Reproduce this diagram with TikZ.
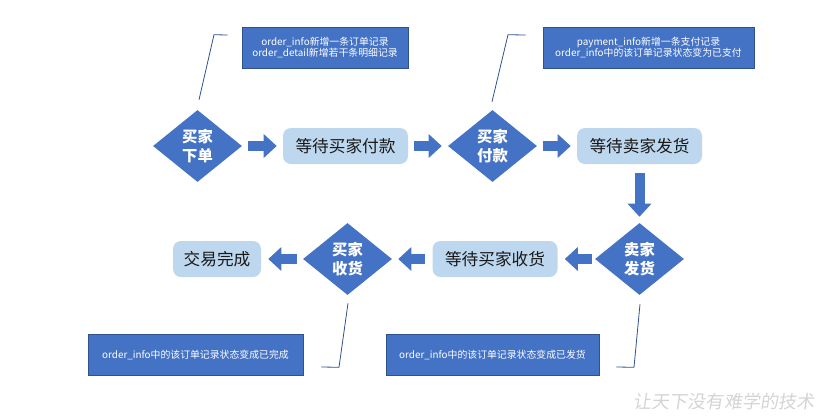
\documentclass[tikz,border=0pt]{standalone}
\usepackage{fontspec}
\setmainfont{Noto Sans CJK SC}
\newfontfamily\markfont[FakeSlant=0.15]{Noto Sans CJK SC}
\usepackage{xcolor}
\usetikzlibrary{shapes.geometric}
\usetikzlibrary{arrows.meta}
\usetikzlibrary{calc}

\definecolor{stepblue}{HTML}{4472C4}
\definecolor{waitblue}{HTML}{BDD7EE}
\definecolor{noteedge}{HTML}{2F528F}
\definecolor{marklight}{HTML}{D4D4D4}

\tikzset{
  decide/.style={diamond, fill=stepblue, text=white, align=center, inner sep=0pt,
    minimum width=66.75pt, minimum height=54pt,
    font=\fontsize{11.5}{14}\selectfont\bfseries},
  wait/.style={rectangle, rounded corners=6pt, fill=waitblue, text=black!90,
    inner sep=0pt, minimum width=93.75pt, minimum height=27pt,
    font=\fontsize{12.5}{15}\selectfont},
  note/.style={rectangle, fill=stepblue, draw=noteedge, line width=0.4pt, text=white,
    align=center, inner sep=0pt, minimum height=30.75pt,
    font=\fontsize{7.4}{8.8}\selectfont},
  flow/.style={draw=stepblue, line width=7.5pt, -{Triangle[length=9.75pt,width=17.25pt]},
    shorten <=4.5pt, shorten >=4.5pt},
  lead/.style={draw=noteedge, line width=0.6pt}
}

\begin{document}
\begin{tikzpicture}[x=0.75pt, y=-0.75pt]
  \useasboundingbox (0,0) rectangle (840,419);

  % upper row
  \node[decide] (buy)   at (197.5,146) {买家\\下单};
  \node[wait]   (topay) at (345.5,146) {等待买家付款};
  \node[decide] (pay)   at (492.5,146) {买家\\付款};
  \node[wait]   (tosend) at (639.5,146) {等待卖家发货};

  % lower row
  \node[decide] (send)  at (639.5,259) {卖家\\发货};
  \node[wait]   (toget) at (495,259) {等待买家收货};
  \node[decide] (get)   at (347.5,259) {买家\\收货};
  \node[wait, minimum width=66pt] (done) at (217,259) {交易完成};

  % notes
  \node[note, minimum width=124.5pt] (buynote) at (325,47.5)
    {order\_info新增一条订单记录\\order\_detail新增若干条明细记录};
  \node[note, minimum width=158.25pt] (paynote) at (648.5,47.5)
    {payment\_info新增一条支付记录\\order\_info中的该订单记录状态变为已支付};
  \node[note, minimum width=161.25pt] (getnote) at (195.5,354.5)
    {order\_info中的该订单记录状态变成已完成};
  \node[note, minimum width=159.75pt] (sendnote) at (492.5,354.5)
    {order\_info中的该订单记录状态变成已发货};

  % block arrows
  \draw[flow] (buy) -- (topay);
  \draw[flow] (topay) -- (pay);
  \draw[flow] (pay) -- (tosend);
  \draw[flow, shorten <=6.75pt] (tosend) -- (send);
  \draw[flow, shorten <=2.25pt, shorten >=5.25pt] (send) -- (toget);
  \draw[flow, shorten <=5.25pt] (toget) -- (get);
  \draw[flow, shorten >=5.25pt] (get) -- (done);

  % note leads
  \draw[lead] ([shift={(1.5,-10)}]buy.north) -- ++(15,-65) -- ([shift={(-14,-12.5)}]buynote.west);
  \draw[lead] ([shift={(-0.5,-8)}]pay.north) -- ++(16,-67) -- ([shift={(-17,-12.5)}]paynote.west);
  \draw[lead] ([shift={(0.5,8)}]get.south) -- ++(-9,64) -- ([shift={(18,12.5)}]getnote.east);
  \draw[lead] ([shift={(0.5,9)}]send.south) -- ++(-6,63) -- ([shift={(17,12.5)}]sendnote.east);

  \node[text=marklight, font=\markfont\fontsize{13.6}{16}\selectfont] (mark) at (724,402)
    {让天下没有难学的技术};
\end{tikzpicture}
\end{document}
